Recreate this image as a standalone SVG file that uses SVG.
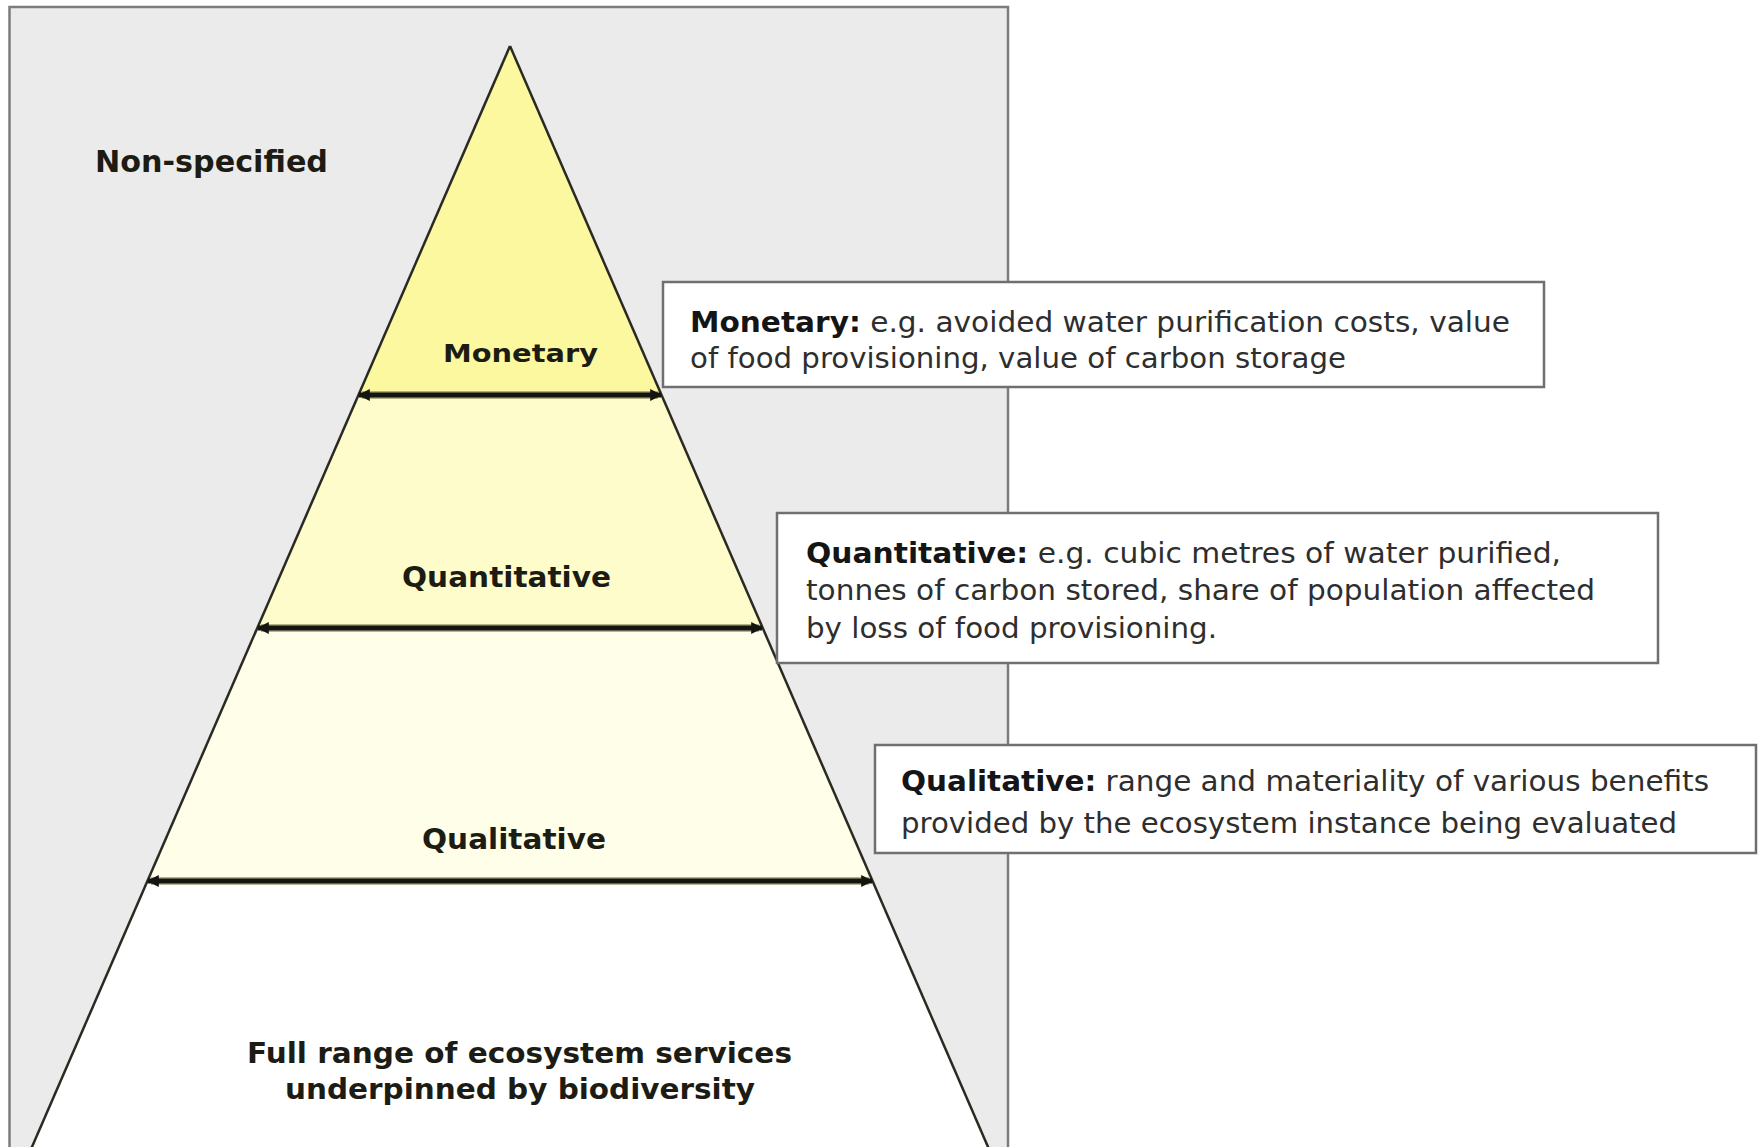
<svg xmlns="http://www.w3.org/2000/svg" width="1759" height="1147" viewBox="0 0 1759 1147">
<defs>
<style>
.lbl{font-family:"DejaVu Sans","Liberation Sans",sans-serif;font-weight:bold;fill:#1c1c14;}
.box{fill:#ffffff;stroke:#6f6f6f;stroke-width:2.5;}
.bt{font-family:"DejaVu Sans","Liberation Sans",sans-serif;font-size:27.5px;fill:#2e2e2e;}
.bt .b{font-weight:bold;fill:#151515;}
.edge{stroke:#2a2a22;stroke-width:2.5;fill:none;}
.arr{stroke:#141410;stroke-width:5;fill:none;marker-start:url(#ah);marker-end:url(#ah);}
.halo{stroke:#77774a;stroke-width:8;opacity:0.55;fill:none;}
</style>
<marker id="ah" viewBox="0 0 10 10" refX="9" refY="5" markerUnits="userSpaceOnUse" markerWidth="12" markerHeight="12" orient="auto-start-reverse">
<path d="M0,0 L10,5 L0,10 z" fill="#141410"/>
</marker>
</defs>

<g id="background">
<rect x="9.5" y="7" width="998.5" height="1150" fill="#ebebeb" stroke="#7c7c7c" stroke-width="2.5"/>
</g>

<g id="tier-monetary">
<polygon points="510,46 661.5,395 358.5,395" fill="#fbf8a0"/>
<text class="lbl" x="443" y="362" font-size="25" textLength="155" lengthAdjust="spacingAndGlyphs">Monetary</text>
</g>
<g id="tier-quantitative">
<polygon points="358.5,395 661.5,395 762.7,628 257.3,628" fill="#fefccb"/>
<text class="lbl" x="402" y="587" font-size="29" textLength="209" lengthAdjust="spacingAndGlyphs">Quantitative</text>
</g>
<g id="tier-qualitative">
<polygon points="257.3,628 762.7,628 872.6,881 147.4,881" fill="#fffee9"/>
<text class="lbl" x="422" y="849" font-size="29" textLength="184" lengthAdjust="spacingAndGlyphs">Qualitative</text>
</g>
<g id="tier-full-range">
<polygon points="147.4,881 872.6,881 993.7,1160 26.3,1160" fill="#ffffff"/>
<text class="lbl" x="247" y="1063" font-size="29" textLength="545" lengthAdjust="spacingAndGlyphs">Full range of ecosystem services</text>
<text class="lbl" x="285" y="1099" font-size="29" textLength="470" lengthAdjust="spacingAndGlyphs">underpinned by biodiversity</text>
</g>
<g id="pyramid-outline">
<line class="edge" x1="510" y1="46" x2="26.3" y2="1160"/>
<line class="edge" x1="510" y1="46" x2="993.7" y2="1160"/>
</g>

<g id="non-specified">
<text class="lbl" x="95" y="172" font-size="30" textLength="233" lengthAdjust="spacingAndGlyphs">Non-specified</text>
</g>

<g id="connectors">
<line class="halo" x1="362" y1="395" x2="658" y2="395"/>
<line class="arr" x1="359" y1="395" x2="661" y2="395"/>
<line class="halo" x1="261" y1="628" x2="759" y2="628"/>
<line class="arr" x1="258" y1="628" x2="762" y2="628"/>
<line class="halo" x1="151" y1="881" x2="869" y2="881"/>
<line class="arr" x1="148" y1="881" x2="872" y2="881"/>
</g>

<g id="box-monetary">
<rect class="box" x="663" y="282" width="881" height="105"/>
<text class="bt" x="690" y="332" textLength="820" lengthAdjust="spacingAndGlyphs"><tspan class="b">Monetary:</tspan> e.g. avoided water purification costs, value</text>
<text class="bt" x="690" y="368" textLength="656" lengthAdjust="spacingAndGlyphs">of food provisioning, value of carbon storage</text>
</g>

<g id="box-quantitative">
<rect class="box" x="777" y="513" width="881" height="150"/>
<text class="bt" x="806" y="563" textLength="755" lengthAdjust="spacingAndGlyphs"><tspan class="b">Quantitative:</tspan> e.g. cubic metres of water purified,</text>
<text class="bt" x="806" y="600" textLength="789" lengthAdjust="spacingAndGlyphs">tonnes of carbon stored, share of population affected</text>
<text class="bt" x="806" y="638" textLength="411" lengthAdjust="spacingAndGlyphs">by loss of food provisioning.</text>
</g>

<g id="box-qualitative">
<rect class="box" x="875" y="745" width="881" height="108"/>
<text class="bt" x="901" y="791" textLength="808" lengthAdjust="spacingAndGlyphs"><tspan class="b">Qualitative:</tspan> range and materiality of various benefits</text>
<text class="bt" x="901" y="833" textLength="776" lengthAdjust="spacingAndGlyphs">provided by the ecosystem instance being evaluated</text>
</g>
</svg>
